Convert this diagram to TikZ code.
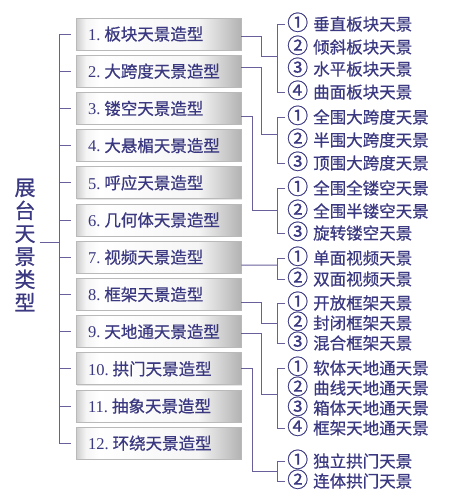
\documentclass[tikz,border=0pt]{standalone}
\usepackage{fontspec}
\setmainfont{Liberation Serif}
\newfontfamily\cjk[FakeBold=0.6]{Noto Sans CJK SC}
\usetikzlibrary{calc,shadows}
\definecolor{txt}{RGB}{58,56,128}
\definecolor{lin}{RGB}{105,95,155}
\pgfdeclarehorizontalshading{boxshade}{100bp}{color(0bp)=(gray!40); color(25bp)=(gray!40); color(28bp)=(white!92!gray); color(32bp)=(white); color(62bp)=(white!92!gray); color(75bp)=(gray!60); color(100bp)=(gray!60)}
\newcommand{\cn}[1]{\smash{\fontsize{21}{18}\selectfont #1}\hspace{5pt}}
\begin{document}
\begin{tikzpicture}[x=1pt,y=-1pt,
  typebox/.style={draw=gray!55, line width=0.8pt, shade, shading=boxshade,
    drop shadow={opacity=0.2, shadow xshift=0.8pt, shadow yshift=-0.8pt},
    minimum height=32pt, text width=141pt, inner xsep=12pt, inner ysep=0pt, align=left,
    text=txt, font=\cjk\fontsize{16.5}{18}\selectfont},
  conn/.style={draw=lin, line width=1pt},
  item/.style={text=txt, font=\cjk\fontsize{16.5}{18}\selectfont, inner sep=0pt, anchor=west},
  rootlbl/.style={text=txt, font=\cjk\fontsize{21}{23}\selectfont, inner sep=0pt, align=center}]
\useasboundingbox (0,0) rectangle (468,496);

% root
\node[rootlbl] (root) at (25,245) {展\\台\\天\\景\\类\\型};

% type boxes
\foreach \i/\nm/\t in {1/1./板块天景造型, 2/2./大跨度天景造型, 3/3./镂空天景造型, 4/4./大悬楣天景造型,
  5/5./呼应天景造型, 6/6./几何体天景造型, 7/7./视频天景造型, 8/8./框架天景造型,
  9/9./天地通天景造型, 10/10./拱门天景造型, 11/11./抽象天景造型, 12/12./环绕天景造型}{
  \node[typebox] (b\i) at (158.5,{34+37.2*(\i-1)}) {{\rmfamily\nm}\hspace{4pt}\t};
  \coordinate (lb\i) at (59,{34+37.2*(\i-1)});
  \draw[conn] (lb\i) -- ([xshift=-5pt]b\i.west);
}
\draw[conn] (lb1) -- (lb12);
\coordinate (rj) at (59,242);
\draw[conn] ([xshift=4pt,yshift=3pt]root.east) -- (rj);

% bracket x
\coordinate (bx) at (277,0);

% group 1
\node[item] (i1a) at (287,24) {\cn{①}垂直板块天景};
\node[item] (i1b) at (287,47) {\cn{②}倾斜板块天景};
\node[item] (i1c) at (287,69) {\cn{③}水平板块天景};
\node[item] (i1d) at (287,92) {\cn{④}曲面板块天景};
\draw[conn] ([xshift=-2pt]i1a.west) -- (bx |- i1a.west) -- (bx |- i1d.west) -- ([xshift=-2pt]i1d.west);
\coordinate (j1) at (261,56);
\draw[conn] ([yshift=-2pt]b1.east) -| (j1) -- (bx |- j1);

% group 2
\node[item] (i2a) at (287,117) {\cn{①}全围大跨度天景};
\node[item] (i2b) at (287,140) {\cn{②}半围大跨度天景};
\node[item] (i2c) at (287,163) {\cn{③}顶围大跨度天景};
\draw[conn] ([xshift=-2pt]i2a.west) -- (bx |- i2a.west) -- (bx |- i2c.west) -- ([xshift=-2pt]i2c.west);
\coordinate (j2) at (261,134);
\draw[conn] ([yshift=4pt]b2.east) -| (j2) -- (bx |- j2);

% group 3
\node[item] (i3a) at (287,188) {\cn{①}全围全镂空天景};
\node[item] (i3b) at (287,211) {\cn{②}全围半镂空天景};
\node[item] (i3c) at (287,233) {\cn{③}旋转镂空天景};
\draw[conn] ([xshift=-2pt]i3a.west) -- (bx |- i3a.west) -- (bx |- i3c.west) -- ([xshift=-2pt]i3c.west);
\coordinate (j3) at (252,210);
\draw[conn] ([yshift=-7.6pt]b3.east) -| (j3) -- (bx |- j3);

% group 7
\node[item] (i7a) at (287,258) {\cn{①}单面视频天景};
\node[item] (i7b) at (287,279) {\cn{②}双面视频天景};
\draw[conn] ([xshift=-2pt]i7a.west) -- (bx |- i7a.west) -- (bx |- i7b.west) -- ([xshift=-2pt]i7b.west);
\coordinate (j7) at (277,265);
\draw[conn] ([yshift=-7.8pt]b7.east) -- (j7);

% group 8
\node[item] (i8a) at (287,303) {\cn{①}开放框架天景};
\node[item] (i8b) at (287,323) {\cn{②}封闭框架天景};
\node[item] (i8c) at (287,343) {\cn{③}混合框架天景};
\draw[conn] ([xshift=-2pt]i8a.west) -- (bx |- i8a.west) -- (bx |- i8c.west) -- ([xshift=-2pt]i8c.west);
\coordinate (j8) at (261,323);
\draw[conn] ([yshift=-7.6pt]b8.east) -| (j8) -- (bx |- j8);

% group 9
\node[item] (i9a) at (287,368) {\cn{①}软体天地通天景};
\node[item] (i9b) at (287,388) {\cn{②}曲线天地通天景};
\node[item] (i9c) at (287,408) {\cn{③}箱体天地通天景};
\node[item] (i9d) at (287,428) {\cn{④}框架天地通天景};
\draw[conn] ([xshift=-2pt]i9a.west) -- (bx |- i9a.west) -- (bx |- i9d.west) -- ([xshift=-2pt]i9d.west);
\coordinate (j9) at (261,394);
\draw[conn] ([yshift=-1.4pt]b9.east) -| (j9) -- (bx |- j9);

% group 10
\node[item] (i10a) at (287,461) {\cn{①}独立拱门天景};
\node[item] (i10b) at (287,481) {\cn{②}连体拱门天景};
\draw[conn] ([xshift=-2pt]i10a.west) -- (bx |- i10a.west) -- (bx |- i10b.west) -- ([xshift=-2pt]i10b.west);
\coordinate (j10) at (252,471);
\draw[conn] (b10.east) -| (j10) -- (bx |- j10);
\end{tikzpicture}
\end{document}
